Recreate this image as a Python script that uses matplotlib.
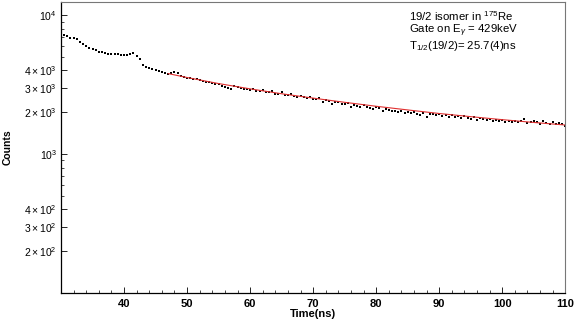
import numpy as np
import matplotlib
matplotlib.use("Agg")
import matplotlib.pyplot as plt
from matplotlib.ticker import FixedLocator, NullFormatter

plt.rcParams['font.family'] = ['Liberation Sans', 'DejaVu Sans']
plt.rcParams['mathtext.fontset'] = 'custom'
plt.rcParams['mathtext.rm'] = 'Liberation Sans'
plt.rcParams['mathtext.it'] = 'Liberation Sans:italic'
plt.rcParams['mathtext.bf'] = 'Liberation Sans:bold'

# time bins (ns), 0.5 ns wide
time_ns = np.arange(30.0, 110.01, 0.5)
# counts, one per bin
counts = [
    7350, 7200, 7050, 6850, 6900, 6700, 6450, 6250, 6050, 5850,
    5700, 5600, 5480, 5420, 5350, 5300, 5260, 5220, 5230, 5190,
    5200, 5180, 5260, 5310, 5080, 4800, 4400, 4250, 4150, 4080,
    4000, 3950, 3880, 3820, 3800, 3860, 3880, 3820, 3680, 3600,
    3560, 3530, 3480, 3460, 3390, 3370, 3320, 3300, 3240, 3200,
    3180, 3110, 3060, 3010, 2960, 3080, 3020, 2990, 2960, 2930,
    2900, 2960, 2870, 2840, 2900, 2810, 2780, 2850, 2730, 2700,
    2790, 2680, 2650, 2720, 2610, 2580, 2640, 2560, 2540, 2580,
    2510, 2480, 2530, 2380, 2450, 2420, 2300, 2390, 2360, 2310,
    2280, 2340, 2190, 2260, 2230, 2200, 2240, 2170, 2150, 2120,
    2170, 2130, 2060, 2110, 2080, 2030, 2060, 2010, 2040, 1990,
    2010, 1970, 2000, 1950, 1920, 1980, 1860, 1960, 1930, 1900,
    1940, 1890, 1910, 1860, 1900, 1850, 1880, 1830, 1870, 1810,
    1800, 1840, 1760, 1810, 1780, 1750, 1790, 1740, 1770, 1720,
    1760, 1710, 1740, 1700, 1730, 1690, 1720, 1780, 1680, 1700,
    1740, 1690, 1660, 1720, 1680, 1650, 1690, 1640, 1670, 1660,
    1600,
]

# red fit curve, read at a few points
fit_t = [47, 50, 55, 60, 65, 70, 75, 80, 85, 90, 95, 100, 105, 110]
fit_counts = [3800, 3560, 3220, 2950, 2720, 2530, 2360, 2210, 2080, 1960, 1860, 1770, 1690, 1620]

major_y = [200, 300, 400, 1000, 2000, 3000, 4000, 10000]
major_y_labels = [r'$2\times10^{2}$', r'$3\times10^{2}$', r'$4\times10^{2}$', r'$10^{3}$',
                  r'$2\times10^{3}$', r'$3\times10^{3}$', r'$4\times10^{3}$', r'$10^{4}$']
minor_y = [500, 600, 700, 800, 900, 5000, 6000, 7000, 8000, 9000]

fig = plt.figure(figsize=(5.81, 3.23), dpi=100)
ax = fig.add_axes([0.105, 0.093, 0.868, 0.9])

ax.plot(time_ns, counts, 's', color='black', markersize=1.9, markeredgewidth=0)
ax.plot(fit_t, fit_counts, '-', color='#e03030', linewidth=0.8)

ax.set_yscale('log')
ax.set_xlim(30, 110)
ax.set_ylim(100, 12400)

ax.yaxis.set_major_locator(FixedLocator(major_y))
ax.set_yticklabels(major_y_labels)
ax.yaxis.set_minor_locator(FixedLocator(minor_y))
ax.yaxis.set_minor_formatter(NullFormatter())

ax.set_xticks(range(40, 111, 10))
ax.set_xticks(np.arange(30, 110.1, 2), minor=True)

ax.tick_params(axis='both', which='major', direction='in', length=4, width=0.6)
ax.tick_params(axis='y', which='major', labelsize=7.5, pad=3)
ax.tick_params(axis='x', which='major', labelsize=8, pad=4)
ax.tick_params(axis='both', which='minor', direction='in', length=2, width=0.5)
for lab in ax.get_xticklabels():
    lab.set_fontweight('bold')

for side in ['top', 'right']:
    ax.spines[side].set_color('#777777')
    ax.spines[side].set_linewidth(0.8)
for side in ['left', 'bottom']:
    ax.spines[side].set_linewidth(0.9)

ax.set_xlabel('Time(ns)', fontsize=8, fontweight='bold', labelpad=0)
ax.set_ylabel('Counts', fontsize=7.5, fontweight='bold', labelpad=8)

ax.text(0.69, 0.975,
        "19/2 isomer in $^{175}$Re\nGate on E$_{\\gamma}$ = 429keV\nT$_{1/2}$(19/2)= 25.7(4)ns",
        transform=ax.transAxes, ha='left', va='top', fontsize=8.2, linespacing=0.95)

fig.savefig('out.png', dpi=100)
